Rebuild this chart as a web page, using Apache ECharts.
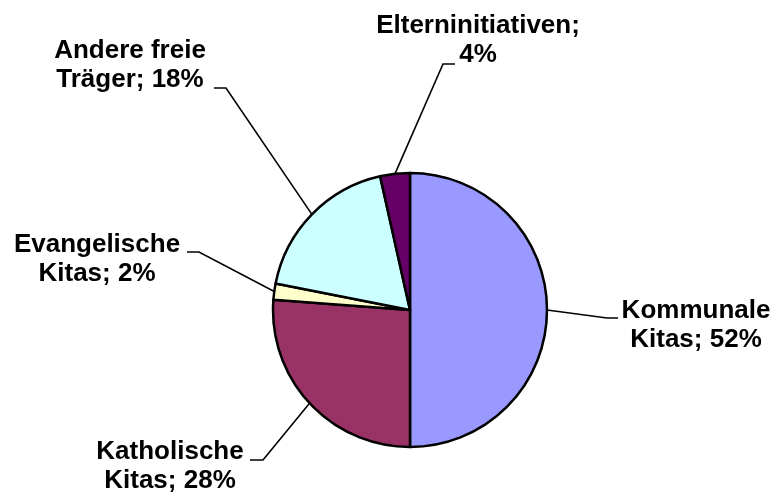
<!DOCTYPE html>
<html>
<head>
<meta charset="utf-8">
<script src="https://cdn.jsdelivr.net/npm/echarts@6/dist/echarts.min.js"></script>
<style>
	html, body { margin: 0; padding: 0; background: #fff; }
	#chart { width: 776px; height: 495px; }
</style>
</head>
<body>
<div id="chart"></div>
<script>
	// slice data (share of the pie as drawn) and the printed percentage labels
	const categories = ["Kommunale\nKitas", "Katholische\nKitas", "Evangelische\nKitas", "Andere freie\nTräger", "Elterninitiativen"];
	const values = [50, 26.2, 1.9, 18.4, 3.5];
	const percentLabels = [52, 28, 2, 18, 4];
	const colors = ["#9999FF", "#993366", "#FFFFCC", "#CCFFFF", "#660066"];

	// label layout: text centre, leader-line bend and end next to the text
	const labelCenter = [[696, 325], [170, 466], [97, 259], [130, 65], [478, 40]];
	const lineBend = [[607, 318], [263, 460], [199, 252], [226, 88], [443, 64]];
	const lineEnd = [[618, 318], [250, 460], [187, 252], [214, 88], [455, 64]];

	const chart = echarts.init(document.getElementById("chart"));

	chart.setOption({
		backgroundColor: "#fff",
		animation: false,
		series: [{
			type: "pie",
			center: [410, 310],
			radius: 137,
			startAngle: 90,
			clockwise: true,
			avoidLabelOverlap: false,
			data: categories.map((name, i) => ({
				name: name,
				value: values[i],
				itemStyle: { color: colors[i] }
			})),
			itemStyle: { borderColor: "#000", borderWidth: 2.5 },
			emphasis: { disabled: true },
			label: {
				show: true,
				position: "outside",
				color: "#000",
				fontFamily: "Liberation Sans, Arial, sans-serif",
				fontWeight: "bold",
				fontSize: 26,
				lineHeight: 29,
				align: "center",
				formatter: function (p) {
					const sep = p.name.indexOf("\n") >= 0 ? "; " : ";\n";
					return p.name + sep + percentLabels[p.dataIndex] + "%";
				}
			},
			labelLine: {
				show: true,
				smooth: false,
				lineStyle: { color: "#000", width: 1.6 }
			},
			labelLayout: function (params) {
				const i = params.dataIndex;
				const start = params.labelLinePoints ? params.labelLinePoints[0] : lineBend[i];
				return {
					x: labelCenter[i][0],
					y: labelCenter[i][1],
					align: "center",
					verticalAlign: "middle",
					labelLinePoints: [start, lineBend[i], lineEnd[i]]
				};
			}
		}]
	});
</script>
</body>
</html>
